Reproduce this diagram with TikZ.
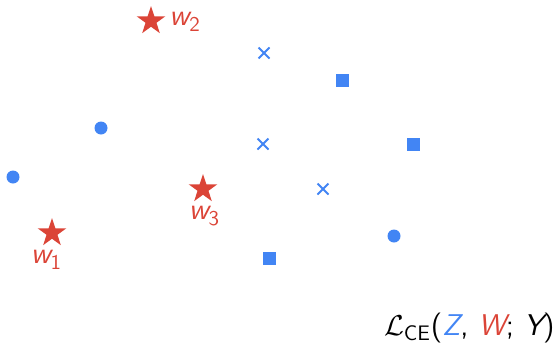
\documentclass[tikz,border=0pt]{standalone}
\usepackage{amsmath}
\usetikzlibrary{shapes.geometric,shapes.misc}
\definecolor{gred}{HTML}{DB4437}
\definecolor{gblue}{HTML}{4285F4}
\newcommand{\wlab}[1]{{\sffamily\itshape w}\raisebox{-0.45ex}{\sffamily\fontsize{10.5}{12}\selectfont #1}}
\begin{document}
\begin{tikzpicture}[x=0.5pt,y=-0.5pt,
  redstar/.style={star, star points=5, star point ratio=2.6, fill=gred, draw=none, minimum size=15pt, inner sep=0pt},
  bsq/.style={rectangle, fill=gblue, minimum size=6.5pt, inner sep=0pt},
  bdot/.style={circle, fill=gblue, minimum size=6.5pt, inner sep=0pt},
  bcross/.style={cross out, draw=gblue, line width=1pt, minimum size=4.5pt, inner sep=0pt},
  wlabel/.style={text=gred, inner sep=0pt, font=\fontsize{15}{18}\selectfont}]
\useasboundingbox (0,0) rectangle (557,354);
\node[redstar] (s2) at (151,21) {};
\node[wlabel, anchor=west] (l2) at (169,22) {\wlab{2}};
\node[redstar] (s3) at (203,189) {};
\node[wlabel] (l3) at (204,216) {\wlab{3}};
\node[redstar] (s1) at (52,233) {};
\node[wlabel] (l1) at (46,260) {\wlab{1}};
\node[bcross] (c1) at (264,53) {};
\node[bcross] (c2) at (263,144) {};
\node[bcross] (c3) at (323,189) {};
\node[bsq] (q1) at (342,80) {};
\node[bsq] (q2) at (413,144) {};
\node[bsq] (q3) at (269,258) {};
\node[bdot] (d1) at (101,128) {};
\node[bdot] (d2) at (13,177) {};
\node[bdot] (d3) at (394,236) {};
\node[anchor=east, inner sep=0pt, font=\fontsize{15}{18}\selectfont] (loss) at (555,328)
  {$\mathcal{L}_{\textsf{CE}}$\textsf{(\textcolor{gblue}{\itshape Z}, \textcolor{gred}{\itshape W}; {\itshape Y})}};
\end{tikzpicture}
\end{document}
